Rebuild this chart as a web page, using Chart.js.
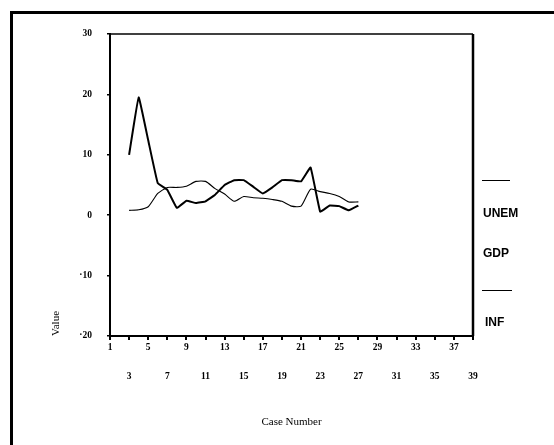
<!DOCTYPE html>
<html>
<head>
<meta charset="utf-8">
<script src="https://cdn.jsdelivr.net/npm/chart.js@4"></script>
<style>
  html, body { margin: 0; padding: 0; background: #fff; }
  #wrap { position: relative; width: 554px; height: 445px; }
</style>
</head>
<body>
<div id="wrap"><canvas id="chart" width="554" height="445"></canvas></div>
<script>
// case numbers that have data
const cases = [3, 4, 5, 6, 7, 8, 9, 10, 11, 12, 13, 14, 15, 16, 17, 18, 19, 20, 21, 22, 23, 24, 25, 26, 27];
const unem = [0.8, 0.9, 1.4, 3.6, 4.6, 4.6, 4.8, 5.6, 5.6, 4.4, 3.5, 2.3, 3.1, 2.9, 2.8, 2.6, 2.3, 1.5, 1.5, 4.3, 3.9, 3.6, 3.1, 2.2, 2.2];
const inf = [10, 19.5, 12.4, 5.3, 4.2, 1.2, 2.4, 2.0, 2.3, 3.4, 5.0, 5.8, 5.8, 4.7, 3.6, 4.6, 5.8, 5.8, 5.6, 7.9, 0.6, 1.6, 1.5, 0.8, 1.6];
const seriesNames = ['UNEM', 'GDP', 'INF'];
const xTicks = [1, 39, 2];     // min, max, step
const yTicks = [-20, 30, 10];

const serif = "'Liberation Serif', 'DejaVu Serif', serif";

// outer frame, top/right of plot box and the odd legend
const extras = {
    id: 'extras',
    beforeDraw(chart) {
        const ctx = chart.ctx;
        ctx.save();
        ctx.fillStyle = '#fff';
        ctx.fillRect(0, 0, chart.width, chart.height);
        ctx.restore();
    },
    afterDraw(chart) {
        const ctx = chart.ctx;
        const a = chart.chartArea;
        ctx.save();
        ctx.strokeStyle = '#000';
        // page frame
        ctx.lineWidth = 3;
        ctx.beginPath();
        ctx.moveTo(554, 12.5);
        ctx.lineTo(11.5, 12.5);
        ctx.lineTo(11.5, 445);
        ctx.stroke();
        // plot box top + right
        ctx.lineWidth = 1.5;
        ctx.beginPath();
        ctx.moveTo(a.left, a.top);
        ctx.lineTo(a.right, a.top);
        ctx.stroke();
        ctx.lineWidth = 2.5;
        ctx.beginPath();
        ctx.moveTo(a.right, a.top);
        ctx.lineTo(a.right, a.bottom);
        ctx.stroke();

        // legend
        ctx.lineWidth = 1;
        ctx.beginPath();
        ctx.moveTo(482, 180.5); ctx.lineTo(510, 180.5);
        ctx.moveTo(482, 290.5); ctx.lineTo(512, 290.5);
        ctx.stroke();
        ctx.fillStyle = '#000';
        ctx.font = "bold 12px 'Liberation Sans', Arial, sans-serif";
        ctx.textBaseline = 'middle';
        const spots = [[483, 214], [483, 254], [485, 323]];
        seriesNames.forEach((n, i) => ctx.fillText(n, spots[i][0], spots[i][1]));
        ctx.restore();
    }
};

const context = document.getElementById('chart');

const data = {
    datasets: [{
        label: 'UNEM',
        data: cases.map((c, i) => ({x: c, y: unem[i]})),
        borderColor: '#000',
        borderWidth: 1.1,
        pointRadius: 0,
        tension: 0.2
    }, {
        label: 'INF',
        data: cases.map((c, i) => ({x: c, y: inf[i]})),
        borderColor: '#000',
        borderWidth: 2,
        pointRadius: 0,
        tension: 0.08
    }]
};

const config = {
    type: 'line',
    data: data,
    plugins: [extras],
    options: {
        responsive: false,
        animation: false,
        layout: {
            padding: {left: 0, top: 34, right: 81, bottom: 0}
        },
        plugins: {
            legend: {display: false},
            tooltip: {enabled: false}
        },
        scales: {
            x: {
                type: 'linear',
                min: xTicks[0],
                max: xTicks[1],
                afterFit: s => { s.height = 109; },
                border: {display: true, color: '#000', width: 2},
                grid: {drawOnChartArea: false, color: '#000', tickLength: 4, lineWidth: 2},
                ticks: {
                    stepSize: xTicks[2],
                    autoSkip: false,
                    maxRotation: 0,
                    padding: -6.5,
                    color: '#000',
                    font: {family: serif, size: 9.5, weight: 'bold', lineHeight: '29px'},
                    callback: v => (((v - 1) / 2) % 2 === 0 ? String(v) : ['', String(v)])
                },
                title: {
                    display: true,
                    text: 'Case Number',
                    color: '#000',
                    font: {family: serif, size: 11},
                    padding: {top: 0, bottom: 16}
                }
            },
            y: {
                min: yTicks[0],
                max: yTicks[1],
                afterFit: s => { s.width = 110; },
                border: {display: true, color: '#000', width: 2},
                grid: {drawOnChartArea: false, color: '#000', tickLength: 3, lineWidth: 1.5},
                ticks: {
                    stepSize: yTicks[2],
                    padding: 15,
                    color: '#000',
                    font: {family: serif, size: 9.5, weight: 'bold'},
                    callback: v => (v < 0 ? '\u00b7' + Math.abs(v) : String(v))
                },
                title: {
                    display: true,
                    text: 'Value',
                    align: 'start',
                    color: '#000',
                    font: {family: serif, size: 11},
                    padding: {top: 50, bottom: 0}
                }
            }
        }
    }
};

const canvas_req = new Chart(context, config);
</script>
</body>
</html>
